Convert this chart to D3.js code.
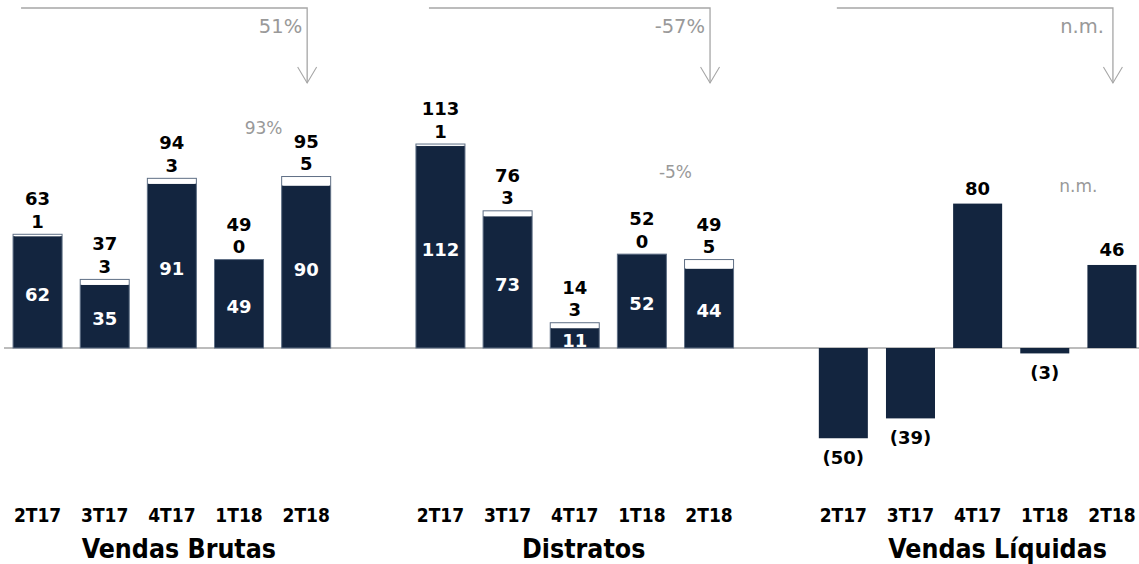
<!DOCTYPE html>
<html><head><meta charset="utf-8">
<script src="https://cdn.jsdelivr.net/npm/d3@7"></script>
<style>body{margin:0;background:#fff}svg{display:block}</style>
</head><body><svg id="c" width="1139" height="564"></svg>
<script>
const periods = ["2T17","3T17","4T17","1T18","2T18"];
const groups = ["Vendas Brutas","Distratos","Vendas Líquidas"];
// Vendas Brutas: base (dark) + top (white) segments
const brutasBase = [62,35,91,49,90];
const brutasTop = [1,3,3,0,5];
const brutasTotal = [63,37,94,49,95];
// Distratos
const distBase = [112,73,11,52,44];
const distTop = [1,3,3,0,5];
const distTotal = [113,76,14,52,49];
// Vendas Líquidas
const liquidas = [-50,-39,80,-3,46];
const liquidasLabels = ["(50)","(39)","80","(3)","46"];
// variation labels
const yoyLabels = ["51%","-57%","n.m."];
const qoqLabels = ["93%","-5%","n.m."];

const svg = d3.select("#c");
const dark = "#13253f", grey = "#a6a6a6", txtGrey = "#999999";
const numFont = "'DejaVu Sans', Verdana, sans-serif";
const condFont = "'DejaVu Sans Condensed', 'DejaVu Sans', sans-serif";
const titleShift = [7, 9, 20];

// 17 slots: 5 bars, gap, 5 bars, gap, 5 bars
const slots = [];
groups.forEach((g,gi)=>{ periods.forEach(p=>slots.push(gi+"|"+p)); if(gi<2) slots.push("gap"+gi); });
const x = d3.scaleBand().domain(slots).range([4,1145.5]).paddingInner(0.27).paddingOuter(0.135);
const y = d3.scaleLinear().domain([0,100]).range([348,167.5]);
const bw = x.bandwidth();

// baseline
svg.append("line").attr("x1",4).attr("x2",1139).attr("y1",y(0)).attr("y2",y(0))
  .attr("stroke",grey).attr("stroke-width",1.5);

function stacked(gi, base, top, total){
  const data = periods.map((p,i)=>({k:gi+"|"+p, base:base[i], top:top[i], total:total[i]}));
  const g = svg.append("g");
  g.selectAll("rect.base").data(data).join("rect")
    .attr("x",d=>x(d.k)).attr("width",bw)
    .attr("y",d=>y(d.base)).attr("height",d=>y(0)-y(d.base))
    .attr("fill",dark);
  g.selectAll("rect.top").data(data.filter(d=>d.top>0)).join("rect")
    .attr("x",d=>x(d.k)+1.5).attr("width",bw-3)
    .attr("y",d=>y(d.base+d.top)+1.2).attr("height",d=>Math.max(0.8,y(d.base)-y(d.base+d.top)-1.2))
    .attr("fill","#fff");
  g.selectAll("rect.outline").data(data).join("rect")
    .attr("x",d=>x(d.k)).attr("width",bw)
    .attr("y",d=>y(d.base+d.top)).attr("height",d=>y(0)-y(d.base+d.top))
    .attr("fill","none").attr("stroke","#5f6f85").attr("stroke-width",1);
  // inside labels
  g.selectAll("text.in").data(data).join("text")
    .attr("x",d=>x(d.k)+bw/2).attr("y",d=>(y(d.base)+y(0))/2+9)
    .attr("text-anchor","middle").attr("fill","#fff").attr("font-weight","bold")
    .attr("font-family",numFont).attr("font-size",18).text(d=>d.base);
  g.selectAll("text.seg").data(data).join("text")
    .attr("x",d=>x(d.k)+bw/2).attr("y",d=>y(d.base+d.top)-6.5)
    .attr("text-anchor","middle").attr("fill","#000").attr("font-weight","bold")
    .attr("font-family",numFont).attr("font-size",18).text(d=>d.top);
  g.selectAll("text.tot").data(data).join("text")
    .attr("x",d=>x(d.k)+bw/2).attr("y",d=>y(d.base+d.top)-29)
    .attr("text-anchor","middle").attr("fill","#000").attr("font-weight","bold")
    .attr("font-family",numFont).attr("font-size",18).text(d=>d.total);
}
stacked(0, brutasBase, brutasTop, brutasTotal);
stacked(1, distBase, distTop, distTotal);

// Vendas Líquidas
const liq = periods.map((p,i)=>({k:"2|"+p, v:liquidas[i], l:liquidasLabels[i]}));
svg.append("g").selectAll("rect").data(liq).join("rect")
  .attr("x",d=>x(d.k)).attr("width",bw)
  .attr("y",d=>y(Math.max(0,d.v))).attr("height",d=>Math.abs(y(d.v)-y(0)))
  .attr("fill",dark);
svg.append("g").selectAll("text").data(liq).join("text")
  .attr("x",d=>x(d.k)+bw/2)
  .attr("y",d=>d.v>=0 ? y(d.v)-9 : y(d.v)+26)
  .attr("text-anchor","middle").attr("font-weight","bold").attr("fill","#000")
  .attr("font-family",numFont).attr("font-size",18).text(d=>d.l);

// category and group labels
groups.forEach((g,gi)=>{
  periods.forEach(p=>{
    svg.append("text").attr("x",x(gi+"|"+p)+bw/2).attr("y",522)
      .attr("text-anchor","middle").attr("font-weight","bold").attr("font-family",condFont)
      .attr("font-size",19).attr("fill","#000").text(p);
  });
  const cx = (x(gi+"|"+periods[0]) + x(gi+"|"+periods[4]) + bw)/2 + titleShift[gi];
  svg.append("text").attr("x",cx).attr("y",558)
    .attr("text-anchor","middle").attr("font-weight","bold").attr("font-family",condFont)
    .attr("font-size",26.5).attr("fill","#000").text(g);

  // arrow
  const x0 = x(gi+"|"+periods[0]) + 8 + gi*5;
  const x1 = x(gi+"|"+periods[4]) + bw/2 + 1;
  svg.append("path").attr("d",`M${x0},8H${x1}V83`).attr("fill","none")
    .attr("stroke",grey).attr("stroke-width",1.3);
  svg.append("path").attr("d",`M${x1-9.5},67L${x1},83L${x1+9.5},67`).attr("fill","none")
    .attr("stroke",grey).attr("stroke-width",1.1);
  svg.append("text").attr("x",x1-(gi===2?9:5)).attr("y",33).attr("text-anchor","end")
    .attr("font-family",numFont).attr("font-size",19.5).attr("fill",txtGrey).text(yoyLabels[gi]);
  const mx = (x(gi+"|"+periods[3]) + x(gi+"|"+periods[4]))/2 + bw/2 - (gi===0?9:0);
  const my = [134,178,192][gi];
  svg.append("text").attr("x",mx).attr("y",my).attr("text-anchor","middle")
    .attr("font-family",numFont).attr("font-size",17).attr("fill",txtGrey).text(qoqLabels[gi]);
});
</script></body></html>
